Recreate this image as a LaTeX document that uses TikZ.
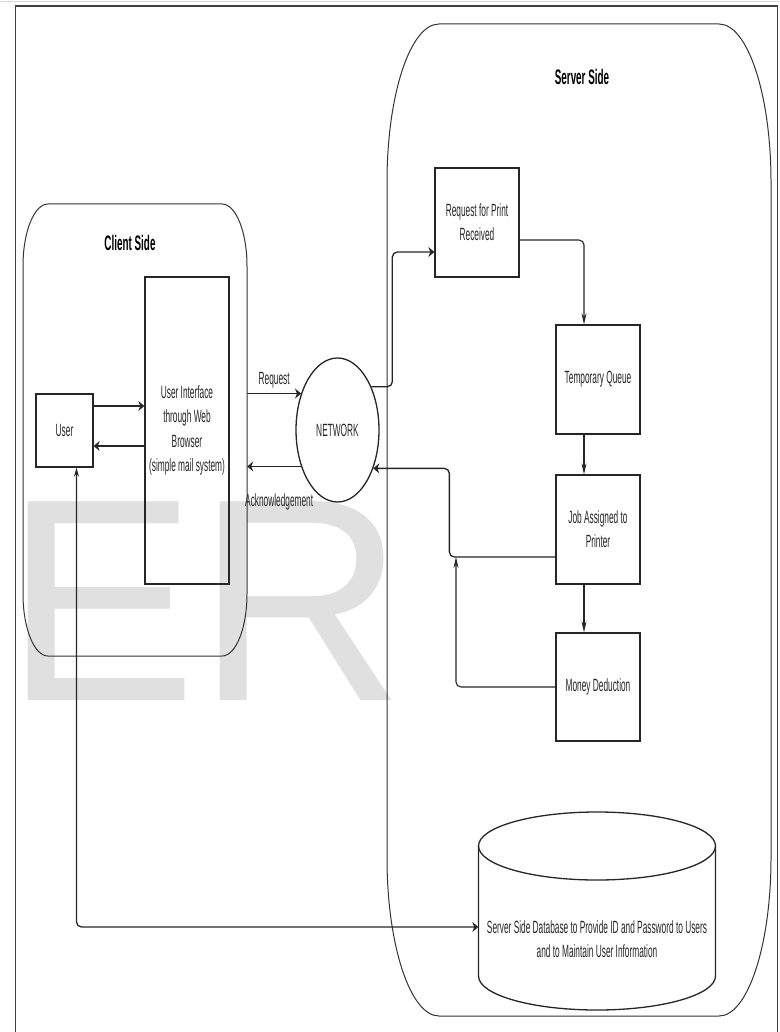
\documentclass[tikz,border=0pt]{standalone}
\usepackage{fontspec}
\setmainfont{Liberation Sans}[FakeStretch=0.47]
\newfontfamily\markfont{Liberation Sans}
\usetikzlibrary{arrows.meta, positioning, calc, shapes.geometric}

% outline of a side container with elliptic corners
% #1,#2 = top left, #3,#4 = bottom right, #5,#6 = corner radii
\newcommand{\roundframe}[6]{%
  \draw[sidebox] (#1,#2+#6)
    arc[start angle=180, end angle=270, x radius=#5, y radius=#6]
    -- (#3-#5,#2)
    arc[start angle=270, end angle=360, x radius=#5, y radius=#6]
    -- (#3,#4-#6)
    arc[start angle=0, end angle=90, x radius=#5, y radius=#6]
    -- (#1+#5,#4)
    arc[start angle=90, end angle=180, x radius=#5, y radius=#6]
    -- cycle;}

\begin{document}
\begin{tikzpicture}[
  x=1pt, y=-1pt,
  every node/.style={font=\fontsize{17.7}{24.3}\selectfont, text=black!85},
  % --- box styles ---
  stepbox/.style={draw=black!85, line width=1.3pt, align=center, inner sep=2pt},
  sidebox/.style={draw=black!80, line width=1pt},
  frame/.style={draw=none, inner sep=0pt},
  title/.style={font=\bfseries\fontsize{21}{25}\selectfont, text=black},
  lbl/.style={font=\fontsize{17.7}{24.3}\selectfont, text=black!85},
  harr/.style={-{Stealth[length=6pt, width=10pt]}, line width=1.3pt, draw=black!85},
  varr/.style={-{Stealth[length=11pt, width=5pt]}, line width=1.1pt, draw=black!85},
]
\useasboundingbox (0,0) rectangle (779,1032);

% ---------- watermark ----------
\node[font=\markfont\fontsize{289}{289}\selectfont, text=black!12,
  anchor=base west, inner sep=0pt] (mark) at (4,700) {ER};

% ---------- page frame ----------
\draw[gray!30, line width=1pt] (0,2) -- (779,2);
\draw[black!75, line width=1pt] (15,1032) -- (15,6) -- (777,6) -- (777,1032);
\draw[black!75, line width=2pt] (15,6) -- (777,6);

% ---------- containers ----------
\roundframe{23}{204}{247}{656}{25}{62}
\node[frame, minimum width=224, minimum height=452] (client) at (135,430) {};
\node[title] (clienttitle) at (130,243) {Client Side};

\roundframe{387}{24}{771}{1016}{52}{158}
\node[frame, minimum width=384, minimum height=992] (server) at (579,520) {};
\node[title] (servertitle) at (582,77) {Server Side};

% ---------- client side ----------
\node[stepbox, minimum width=57, minimum height=73] (user) at (64.5,430.5) {User};
\node[stepbox, minimum width=84, minimum height=307] (ui) at (187,430.5)
  {User Interface\\through Web\\Browser\\(simple mail system)};

\draw[harr] ([yshift=24.5pt]user.east) -- ([yshift=24.5pt]user.east -| ui.west);
\draw[harr] ([yshift=-15.5pt]user.east -| ui.west) -- ([yshift=-15.5pt]user.east);

% ---------- network ----------
\node[ellipse, draw=black!85, line width=1.3pt, minimum width=83,
  minimum height=144, inner sep=0pt] (net) at (337.5,430) {NETWORK};

\draw[harr] (client.east |- net.135) -- (net.135)
  node[lbl, midway, above=1pt] {Request};
\draw[harr] (net.225) -- (client.east |- net.225);
\node[lbl, anchor=west, inner sep=0pt] (acklbl) at (245,502) {Acknowledgement};

% ---------- server side ----------
\node[stepbox, minimum width=84, minimum height=109] (req) at (477,222.5)
  {Request for Print\\Received};
\node[stepbox, minimum width=84, minimum height=109] (temp) at (598,379.5)
  {Temporary Queue};
\node[stepbox, minimum width=84, minimum height=109] (job) at (598,529.5)
  {Job Assigned to\\Printer};
\node[stepbox, minimum width=84, minimum height=108] (money) at (598,687)
  {Money Deduction};

\draw[harr, rounded corners=5pt] (net.52) -- ++(21,0) |- ([yshift=-29.5pt]req.west);
\draw[varr, rounded corners=5pt] ([yshift=-17.5pt]req.east) -| ([xshift=-14pt]temp.north);
\draw[varr] ([xshift=-14pt]temp.south) -- ([xshift=-14pt]job.north);
\draw[varr] ([xshift=-14pt]job.south) -- ([xshift=-14pt]money.north);

% feedback to the network
\draw[harr, rounded corners=5pt] ([yshift=-27.5pt]job.west) -- ++(-106,0) |- (net.-47);
\coordinate (merge) at (456,557);
\draw[varr, rounded corners=5pt] (money.west) -| (merge);

% ---------- database ----------
\draw[black!85, line width=1.3pt] (597,846) ellipse[x radius=118.5, y radius=34];
\draw[black!85, line width=1.3pt] (478.5,846) -- (478.5,976)
  arc[start angle=180, end angle=0, x radius=118.5, y radius=34] -- (715.5,846);
\node[align=center, minimum width=237, inner sep=0pt] (db) at (597,939)
  {Server Side Database to Provide ID and Password to Users\\and to Maintain User Information};

\draw[{Stealth[length=9pt, width=5pt]}-{Stealth[length=6pt, width=10pt]},
  line width=1.3pt, draw=black!85, rounded corners=5pt]
  ([xshift=12pt]user.south) |- ([yshift=12pt]db.west);

\end{tikzpicture}
\end{document}
